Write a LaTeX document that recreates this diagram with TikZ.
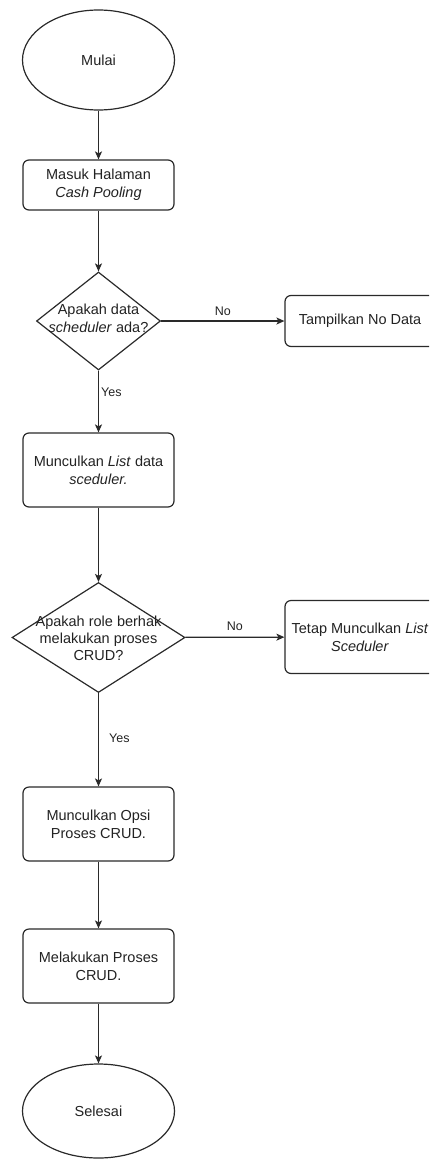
\documentclass[tikz,border=0pt]{standalone}
\usepackage{fontspec}
\setmainfont{Liberation Sans}
\usetikzlibrary{arrows.meta,shapes.geometric}
\definecolor{ln}{HTML}{2A2A2A}
\definecolor{tx}{HTML}{222222}
\tikzset{
  every node/.style={text=tx},
  base/.style={draw=ln, line width=1.2pt, font=\fontsize{14.5}{18.3}\selectfont, align=center, inner sep=0pt},
  term/.style={base, ellipse, minimum width=152pt, minimum height=100pt},
  proc/.style={base, rectangle, rounded corners=6pt, minimum width=151pt},
  decide/.style={base, diamond, aspect=1.25},
  dtext/.style={font=\fontsize{14.5}{18}\selectfont, align=center, inner sep=0pt},
  conn/.style={draw=ln, line width=1.2pt, -{Stealth[length=8pt,width=7pt,inset=2pt]}},
  lbl/.style={font=\fontsize{12.5}{15}\selectfont, inner sep=0pt}
}
\begin{document}
\begin{tikzpicture}[x=1pt,y=-1pt]
\useasboundingbox (0,0) rectangle (429,1160);
\clip (0,0) rectangle (429,1160);
\node[term] (start) at (98.5,60) {Mulai};
\node[proc, minimum height=50pt] (masuk) at (98.5,185) {Masuk Halaman\\\textit{Cash Pooling}};
\node[decide, minimum width=124pt, minimum height=98pt] (d1) at (98.5,321) {};
\node[dtext] (d1t) at (98.5,318) {Apakah data\\\textit{scheduler} ada?};
\node[proc, minimum width=150pt, minimum height=51pt] (nodata) at (360,321) {Tampilkan No Data};
\node[proc, minimum height=74pt] (list) at (98.5,470) {Munculkan \textit{List} data\\\textit{sceduler.}};
\node[decide, minimum width=173pt, minimum height=110pt] (d2) at (98.5,637.5) {};
\node[dtext, font=\fontsize{14.5}{17}\selectfont] (d2t) at (98.5,638) {Apakah role berhak\\melakukan proses\\CRUD?};
\node[proc, minimum width=150pt, minimum height=73pt] (tetap) at (360,637) {Tetap Munculkan \textit{List}\\\textit{Sceduler}};
\node[proc, minimum height=74pt] (opsi) at (98.5,824) {Munculkan Opsi\\Proses CRUD.};
\node[proc, minimum height=74pt] (crud) at (98.5,966) {Melakukan Proses\\CRUD.};
\node[term, minimum width=152pt, minimum height=94pt] (end) at (98.5,1111) {Selesai};
\draw[conn] (start) -- (masuk);
\draw[conn] (masuk) -- (d1);
\draw[conn] (d1) -- node[lbl, above=5pt] {No} (nodata);
\draw[conn] (d1) -- node[lbl, pos=0.35, right=2pt] {Yes} (list);
\draw[conn] (list) -- (d2);
\draw[conn] (d2) -- node[lbl, above=6pt] {No} (tetap);
\draw[conn] (d2) -- node[lbl, pos=0.48, right=10pt] {Yes} (opsi);
\draw[conn] (opsi) -- (crud);
\draw[conn] (crud) -- (end);
\end{tikzpicture}
\end{document}
